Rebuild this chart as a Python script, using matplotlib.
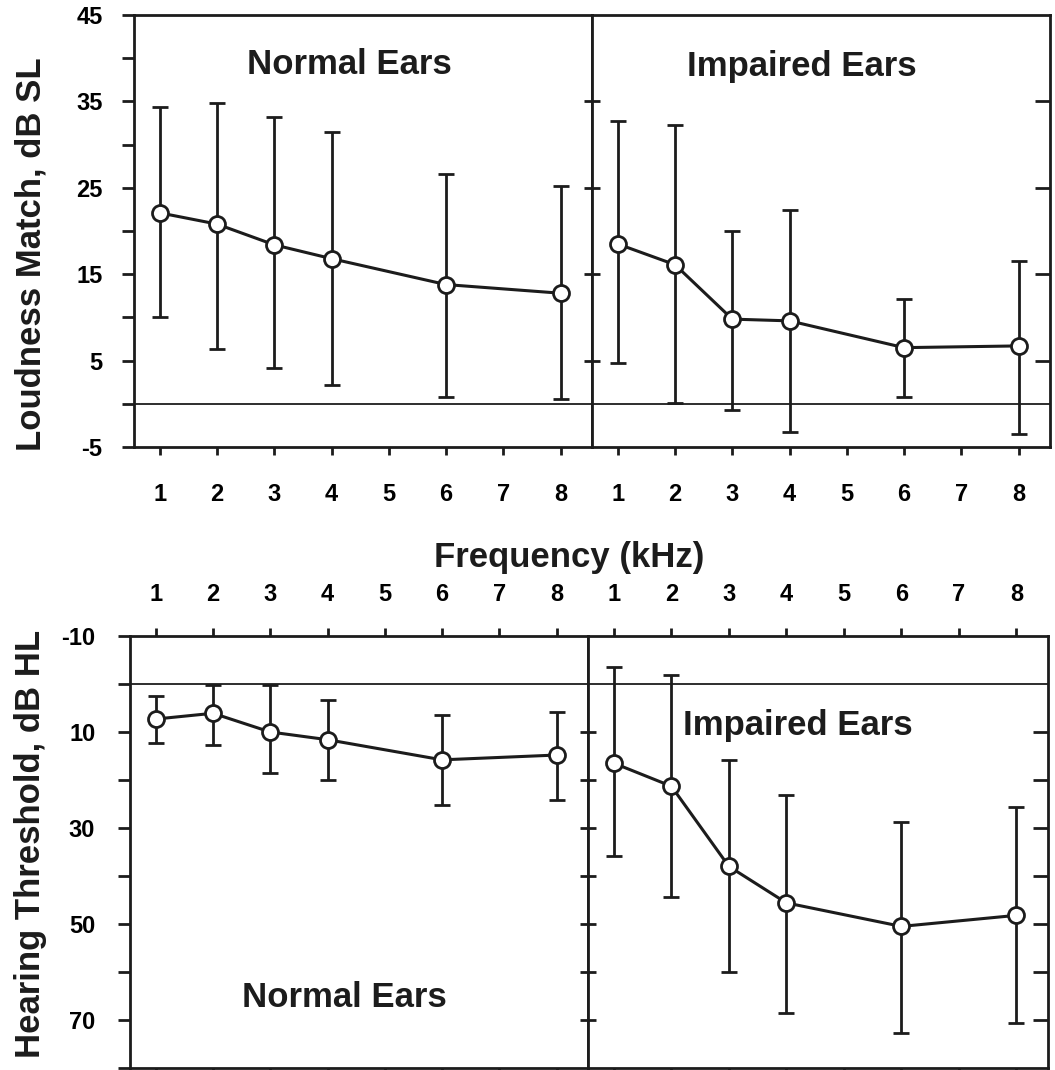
import matplotlib
matplotlib.use('Agg')
import matplotlib.pyplot as plt

plt.rcParams['font.family'] = ['Liberation Sans', 'DejaVu Sans']
plt.rcParams['font.weight'] = 'bold'

INK = '#1c1c1c'

# frequencies tested (kHz) and axis tick labels
freqs = [1, 2, 3, 4, 6, 8]
freq_ticks = [1, 2, 3, 4, 5, 6, 7, 8]

# loudness match, dB SL (mean, top of bar, bottom of bar)
match_normal = [22.1, 20.8, 18.4, 16.8, 13.8, 12.8]
match_normal_hi = [34.4, 34.8, 33.2, 31.5, 26.6, 25.2]
match_normal_lo = [10.1, 6.4, 4.2, 2.2, 0.8, 0.5]

match_impaired = [18.5, 16.1, 9.8, 9.6, 6.5, 6.7]
match_impaired_hi = [32.7, 32.3, 20.0, 22.4, 12.1, 16.5]
match_impaired_lo = [4.7, 0.1, -0.7, -3.3, 0.8, -3.5]

# hearing threshold, dB HL (mean, bar end nearer -10, bar end nearer 80)
thr_normal = [7.3, 6.1, 10.0, 11.6, 15.8, 14.8]
thr_normal_a = [2.4, 0.3, 0.3, 3.3, 6.4, 5.9]
thr_normal_b = [12.2, 12.7, 18.5, 19.9, 25.3, 24.1]

thr_impaired = [16.5, 21.3, 38.0, 45.6, 50.5, 48.2]
thr_impaired_a = [-3.5, -1.8, 15.8, 23.2, 28.7, 25.6]
thr_impaired_b = [35.9, 44.4, 60.1, 68.6, 72.7, 70.6]


def px(x0, y0, x1, y1):
    # pixel box -> figure fraction rect
    return [x0 / 1055, 1 - y1 / 1070, (x1 - x0) / 1055, (y1 - y0) / 1070]


def draw_series(ax, mean, a, b):
    lower = [m - min(p, q) for m, p, q in zip(mean, a, b)]
    upper = [max(p, q) - m for m, p, q in zip(mean, a, b)]
    ax.errorbar(freqs, mean, yerr=[lower, upper], fmt='none', ecolor=INK,
                elinewidth=2, capsize=5.5, capthick=2, zorder=3)
    ax.plot(freqs, mean, '-o', color=INK, lw=2.2, ms=11.5, mfc='white',
            mec=INK, mew=2, zorder=4)
    ax.axhline(0, color=INK, lw=1.3, zorder=2)
    ax.set_xlim(0.55, 8.55)
    ax.set_xticks(freq_ticks)
    for s in ax.spines.values():
        s.set_linewidth(2)
        s.set_color(INK)


def right_ticks(ax, ticks, length):
    axr = ax.twinx()
    axr.set_ylim(ax.get_ylim())
    axr.set_yticks(ticks)
    axr.tick_params(axis='y', direction='in', length=length, width=2,
                    color=INK, labelright=False)
    for s in axr.spines.values():
        s.set_visible(False)


fig = plt.figure(figsize=(10.55, 10.70), dpi=100)

# ---- top: loudness match ----
ax1 = fig.add_axes(px(134, 15, 592, 447))
ax2 = fig.add_axes(px(592, 15, 1050, 447))
draw_series(ax1, match_normal, match_normal_hi, match_normal_lo)
draw_series(ax2, match_impaired, match_impaired_hi, match_impaired_lo)
for ax in (ax1, ax2):
    ax.set_ylim(-5, 45)
    ax.tick_params(axis='x', direction='out', length=6, width=2, pad=20,
                   labelsize=17, color=INK)

ticks1 = list(range(-5, 50, 5))
ax1.set_yticks(ticks1)
ax1.set_yticklabels([str(v) if v % 10 == 5 else '' for v in ticks1])
ax1.tick_params(axis='y', direction='out', length=8.6, width=2, pad=14,
                labelsize=17, color=INK)

ax2.set_yticks([5, 15, 25, 35])
ax2.tick_params(axis='y', direction='inout', length=11, width=2,
                labelleft=False, color=INK)
right_ticks(ax2, [5, 15, 25, 35], 11)

# ---- bottom: hearing threshold ----
ax3 = fig.add_axes(px(130, 636, 588, 1068))
ax4 = fig.add_axes(px(588, 636, 1048, 1068))
draw_series(ax3, thr_normal, thr_normal_a, thr_normal_b)
draw_series(ax4, thr_impaired, thr_impaired_a, thr_impaired_b)
for ax in (ax3, ax4):
    ax.set_ylim(80, -10)
    ax.tick_params(axis='x', direction='out', length=5.5, width=2, pad=16,
                   labelsize=17, top=True, bottom=True, labeltop=True,
                   labelbottom=False, color=INK)

ticks3 = list(range(-10, 90, 10))
ax3.set_yticks(ticks3)
ax3.set_yticklabels([str(v) if v % 20 == 10 else '' for v in ticks3])
ax3.tick_params(axis='y', direction='out', length=9, width=2, pad=16,
                labelsize=17, color=INK)

ax4.set_yticks(list(range(10, 80, 10)))
ax4.tick_params(axis='y', direction='inout', length=11, width=2,
                labelleft=False, color=INK)
right_ticks(ax4, list(range(10, 80, 10)), 11)

# ---- labels ----
fig.text(349 / 1055, 1 - 74 / 1070, 'Normal Ears', ha='center', va='baseline',
         fontsize=25, color=INK)
fig.text(802 / 1055, 1 - 76 / 1070, 'Impaired Ears', ha='center', va='baseline',
         fontsize=25, color=INK)
fig.text(798 / 1055, 1 - 735 / 1070, 'Impaired Ears', ha='center', va='baseline',
         fontsize=25, color=INK)
fig.text(344 / 1055, 1 - 1007 / 1070, 'Normal Ears', ha='center', va='baseline',
         fontsize=25, color=INK)

fig.text(569 / 1055, 1 - 567 / 1070, 'Frequency (kHz)', ha='center', va='baseline',
         fontsize=25, color=INK)
fig.text(31 / 1055, 1 - 254 / 1070, 'Loudness Match, dB SL', rotation=90,
         ha='center', va='center', fontsize=25, color=INK)
fig.text(31 / 1055, 1 - 844 / 1070, 'Hearing Threshold, dB HL', rotation=90,
         ha='center', va='center', fontsize=25, color=INK)

plt.savefig('out.png', dpi=100)
